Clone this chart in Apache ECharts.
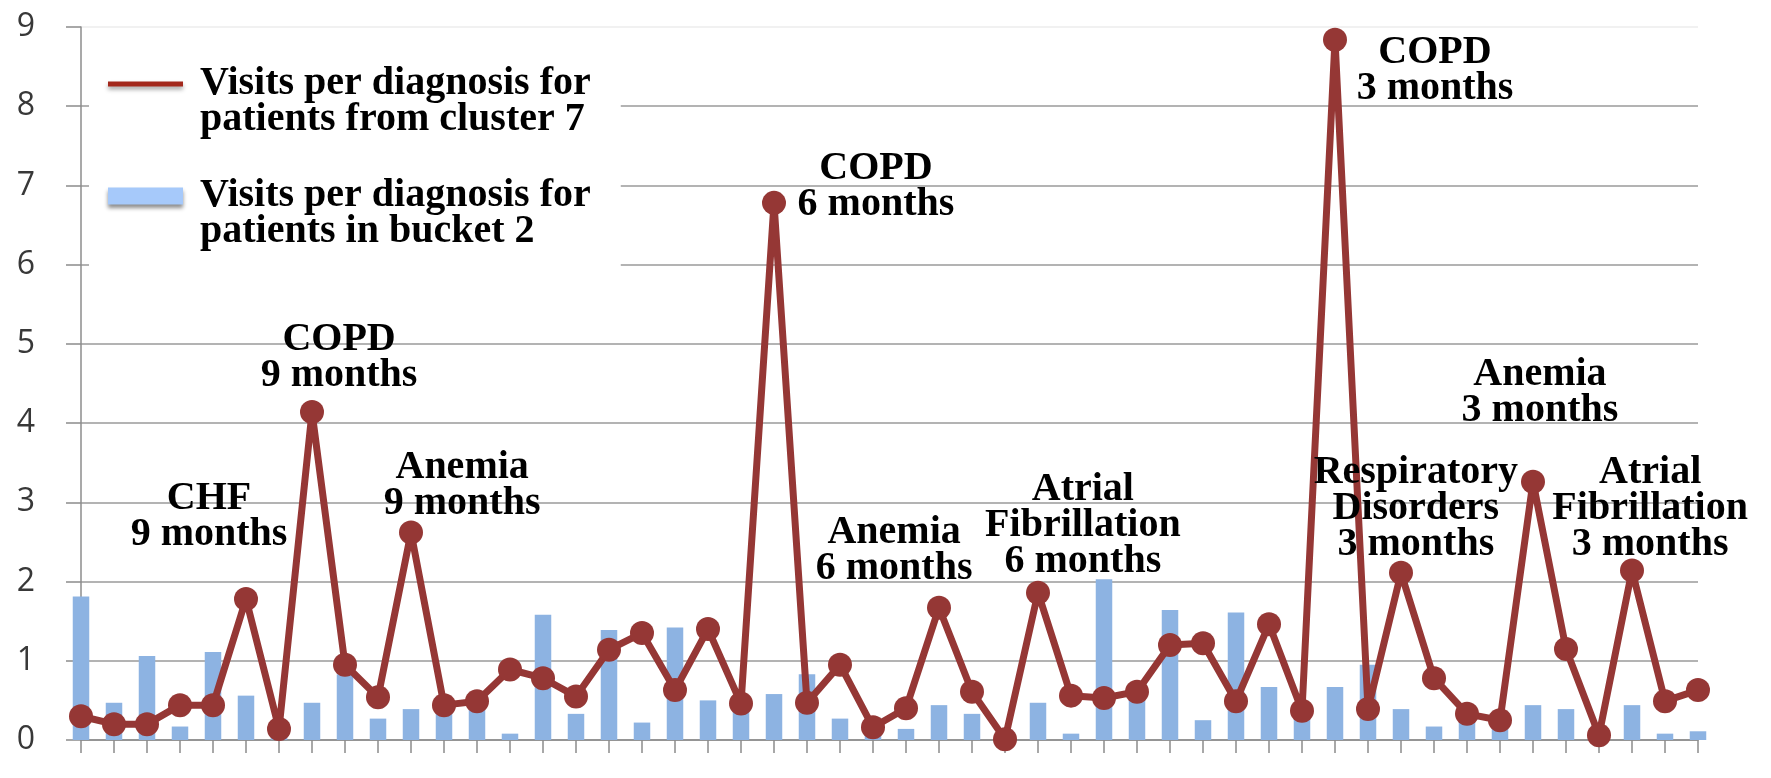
<!DOCTYPE html>
<html>
<head>
<meta charset="utf-8">
<script src="https://cdn.jsdelivr.net/npm/echarts@6/dist/echarts.min.js"></script>
<style>
html,body{margin:0;padding:0;background:#fff;}
#chart{width:1771px;height:778px;}
</style>
</head>
<body>
<div id="chart"></div>
<script>
// ---- data ----
const categories = ['1','2','3','4','5','6','7','8','9','10','11','12','13','14','15','16','17','18','19','20','21','22','23','24','25','26','27','28','29','30','31','32','33','34','35','36','37','38','39','40','41','42','43','44','45','46','47','48','49','50'];
const clusterVisits = [0.30,0.20,0.20,0.44,0.44,1.78,0.14,4.14,0.95,0.54,2.62,0.44,0.49,0.89,0.78,0.55,1.14,1.35,0.63,1.40,0.46,6.78,0.47,0.95,0.16,0.40,1.67,0.61,0.01,1.86,0.56,0.53,0.61,1.20,1.22,0.49,1.46,0.37,8.84,0.39,2.11,0.78,0.33,0.25,3.26,1.15,0.06,2.14,0.49,0.63];
const bucketVisits = [1.81,0.47,1.06,0.17,1.11,0.56,0.10,0.47,0.83,0.27,0.39,0.45,0.43,0.08,1.58,0.33,1.39,0.22,1.42,0.50,0.40,0.58,0.83,0.27,0.10,0.14,0.44,0.33,0.12,0.47,0.08,2.03,0.55,1.64,0.25,1.61,0.67,0.35,0.67,0.95,0.39,0.17,0.28,0.18,0.44,0.39,0.08,0.44,0.08,0.11];
const yTicks = [0,1,2,3,4,5,6,7,8,9];
const seriesNames = ['Visits per diagnosis for\npatients from cluster 7', 'Visits per diagnosis for\npatients in bucket 2'];
const annotationTexts = ['CHF\n9 months','COPD\n9 months','Anemia\n9 months','COPD\n6 months','Anemia\n6 months','Atrial\nFibrillation\n6 months','COPD\n3 months','Anemia\n3 months','Respiratory\nDisorders\n3 months','Atrial\nFibrillation\n3 months'];
// annotation placement (category position, value position)
const annotationAt = [[3.88,2.82],[7.82,4.82],[11.55,3.21],[24.09,6.99],[24.64,2.39],[30.36,2.71],[41.03,8.45],[44.21,4.39],[40.45,2.92],[47.55,2.92]];

const serif = "'Liberation Serif', 'Times New Roman', serif";
const gridColor = '#9a9a9a';
const chart = echarts.init(document.getElementById('chart'), null, {renderer:'canvas'});
chart.setOption({
  animation: false,
  backgroundColor: '#fff',
  grid: {left: 81, right: 73, top: 27, bottom: 38, containLabel: false},
  legend: {
    orient: 'vertical', left: 89, top: 28,
    padding: [0, 30, 16, 19],
    backgroundColor: '#fff',
    itemWidth: 75, itemHeight: 17, itemGap: 0,
    selectedMode: false,
    formatter: name => '\n' + name,
    textStyle: {fontFamily: serif, fontWeight: 'bold', fontSize: 40, lineHeight: 36, color: '#000', padding: [0, 0, 0, 12]},
    data: [
      {name: seriesNames[0], icon: 'path://M0,0M75,17M0,6L75,6L75,11L0,11Z',
       itemStyle: {color: '#a3281c', shadowColor: 'rgba(0,0,0,0.35)', shadowBlur: 4, shadowOffsetY: 3}},
      {name: seriesNames[1], icon: 'rect',
       itemStyle: {color: '#a6c9fa', shadowColor: 'rgba(0,0,0,0.45)', shadowBlur: 4, shadowOffsetY: 3}}
    ]
  },
  xAxis: [
    {type: 'category', data: categories, boundaryGap: false,
     axisLine: {show: true, lineStyle: {color: '#8c8c8c', width: 1.5}},
     axisTick: {show: true, inside: false, length: 13, alignWithLabel: true, lineStyle: {color: '#8c8c8c', width: 1.5}},
     axisLabel: {show: false}, splitLine: {show: false}},
    {type: 'value', min: 0, max: 49, show: false}
  ],
  yAxis: {
    type: 'value', min: yTicks[0], max: yTicks[yTicks.length-1], interval: 1,
    axisLine: {show: true, lineStyle: {color: '#8c8c8c', width: 1.5}},
    axisTick: {show: true, inside: false, length: 15, lineStyle: {color: '#8c8c8c', width: 1.5}},
    axisLabel: {margin: 46, color: '#383838', fontFamily: "'Open Sans', sans-serif", fontSize: 32},
    splitLine: {show: true, lineStyle: {color: [gridColor,gridColor,gridColor,gridColor,gridColor,gridColor,gridColor,gridColor,gridColor,'#ececec'], width: 1.5}}
  },
  series: [
    {name: seriesNames[1], type: 'bar', data: bucketVisits, barWidth: 16.5,
     itemStyle: {color: '#8db3e2'}, clip: true, z: 2},
    {name: seriesNames[0], type: 'line', data: clusterVisits,
     symbol: 'circle', symbolSize: 24, showSymbol: true, showAllSymbol: true,
     lineStyle: {color: '#953735', width: 7},
     itemStyle: {color: '#953735'}, z: 3},
    {name: 'annotations', type: 'scatter', xAxisIndex: 1, yAxisIndex: 0, symbolSize: 0, silent: true, z: 5,
     itemStyle: {color: 'transparent', opacity: 1},
     data: annotationTexts.map((t, i) => ({name: t, value: annotationAt[i]})),
     label: {show: true, position: 'inside', formatter: '{b}', fontFamily: serif, fontWeight: 'bold', fontSize: 40, lineHeight: 36,
             color: '#000', opacity: 1, textBorderWidth: 0, textBorderColor: 'transparent', align: 'center', verticalAlign: 'middle'}}
  ]
});
</script>
</body>
</html>
